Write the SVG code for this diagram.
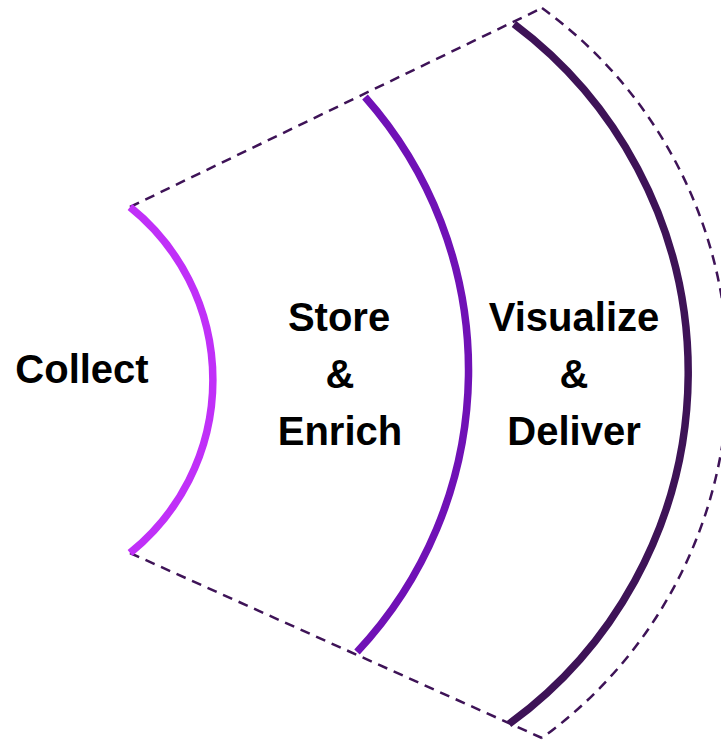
<svg xmlns="http://www.w3.org/2000/svg" width="721" height="741" viewBox="0 0 721 741">
  <style>
    .label { font-family: "Liberation Sans", Arial, sans-serif; font-weight: bold; font-size: 40px; fill: #000000; text-anchor: middle; }
    .ring { fill: none; stroke-width: 7.5; stroke-linecap: butt; }
    .guide { fill: none; stroke: #3E1357; stroke-width: 2.5; stroke-dasharray: 10 7; }
  </style>

  <!-- dashed outline of the funnel sector -->
  <g id="connectors">
    <path class="guide" d="M130,207 L542,8"/>
    <path class="guide" d="M130,553 L542,738"/>
    <path class="guide" d="M542,8 A451,451 0 0 1 542,738"/>
  </g>

  <g id="collect">
    <path class="ring" stroke="#C030F8" d="M130,207 A222,222 0 0 1 130,553"/>
    <text class="label" x="82" y="383">Collect</text>
  </g>

  <g id="store-enrich">
    <path class="ring" stroke="#7011B6" d="M365,97 A412,412 0 0 1 357,652"/>
    <text class="label" x="339" y="331">Store</text>
    <text class="label" x="340" y="388">&amp;</text>
    <text class="label" x="340" y="445">Enrich</text>
  </g>

  <g id="visualize-deliver">
    <path class="ring" stroke="#3E1357" d="M514,24 A435,435 0 0 1 509,724"/>
    <text class="label" x="574" y="331">Visualize</text>
    <text class="label" x="574" y="388">&amp;</text>
    <text class="label" x="574" y="445">Deliver</text>
  </g>
</svg>
